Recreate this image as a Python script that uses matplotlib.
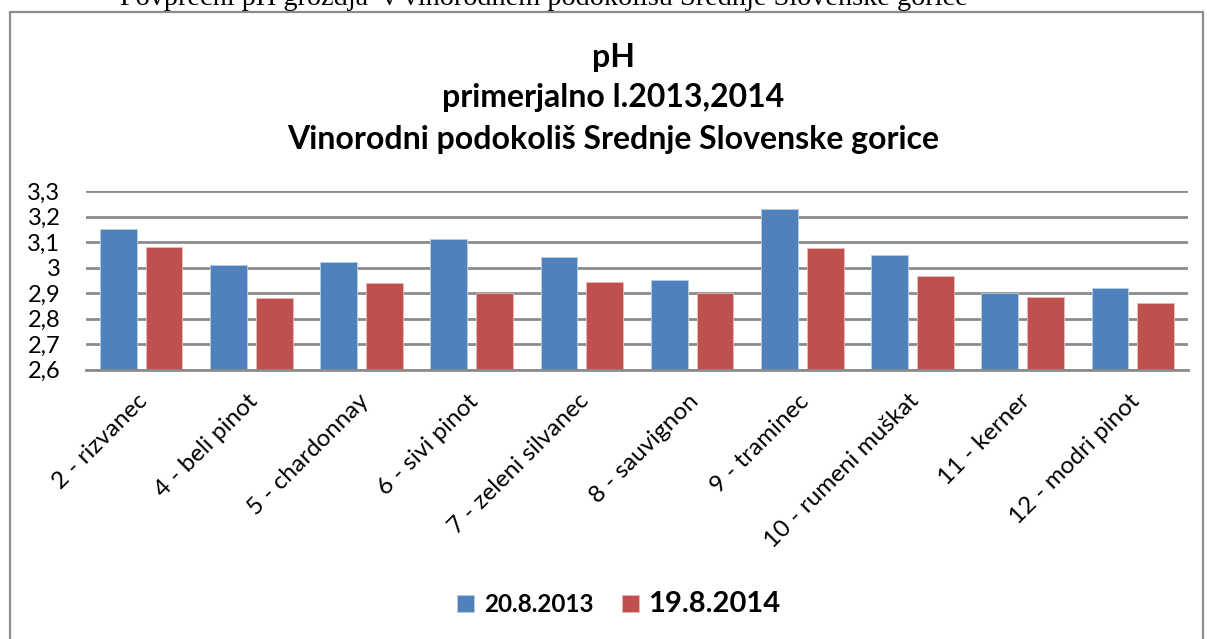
import matplotlib
matplotlib.use('Agg')
import matplotlib.pyplot as plt
import matplotlib.transforms as mtransforms
from matplotlib.patches import Rectangle
import numpy as np

plt.rcParams['font.family'] = ['Lato', 'DejaVu Sans']

# data
varieties = ['2 - rizvanec', '4 - beli pinot', '5 - chardonnay', '6 - sivi pinot',
             '7 - zeleni silvanec', '8 - sauvignon', '9 - traminec',
             '10 - rumeni muškat', '11 - kerner', '12 - modri pinot']
ph_2013 = [3.15, 3.01, 3.02, 3.11, 3.04, 2.95, 3.23, 3.05, 2.90, 2.92]
ph_2014 = [3.08, 2.88, 2.94, 2.90, 2.945, 2.90, 3.075, 2.965, 2.885, 2.86]
series_labels = ['20.8.2013', '19.8.2014']
yticks = [2.6, 2.7, 2.8, 2.9, 3.0, 3.1, 3.2, 3.3]
ytick_labels = ['2,6', '2,7', '2,8', '2,9', '3', '3,1', '3,2', '3,3']

W, H = 1207, 639
fig = plt.figure(figsize=(W / 100, H / 100), dpi=100)

# chart frame (cut by the page at the right/bottom)
fig.patches.append(Rectangle((10 / W, -0.05), (1203 - 10) / W, 1.05 - 12 / H,
                             transform=fig.transFigure, fill=False,
                             edgecolor='#8c8c8c', lw=1.6))

# document caption sliced off at the top
fig.text(120 / W, 1 - 5 / H, 'Povprečni pH grozdja  v vinorodnem podokolišu Srednje Slovenske gorice',
         family='Liberation Serif', fontsize=20.3, ha='left', va='baseline')

ax = fig.add_axes([86 / W, 1 - 369.5 / H, (1188 - 86) / W, (369.5 - 191) / H])

x = np.arange(len(varieties))
w = 0.335
off = 0.208
ax.bar(x - off, np.array(ph_2013) - 2.6, w, bottom=2.6, color='#4F81BD',
       edgecolor='#b9cde5', lw=0.6, label=series_labels[0], zorder=3)
ax.bar(x + off, np.array(ph_2014) - 2.6, w, bottom=2.6, color='#C0504D',
       edgecolor='#e6b9b8', lw=0.6, label=series_labels[1], zorder=3)

ax.set_xlim(-0.5, len(varieties) - 0.5)
ax.set_ylim(2.6, 3.3)
ax.set_yticks(yticks)
ax.set_yticklabels(ytick_labels, fontsize=17)
ax.yaxis.grid(True, color='#8c8c8c', lw=2, zorder=0)
ax.tick_params(axis='y', length=0, pad=18.5)

ax.set_xticks(x)
ax.set_xticklabels(varieties, rotation=45, fontsize=17.5, ha='right', va='top',
                   rotation_mode='anchor')
ax.tick_params(axis='x', length=0, pad=15)
shift = mtransforms.ScaledTranslation(-4 / 100, 0, fig.dpi_scale_trans)
for lab in ax.get_xticklabels():
    lab.set_transform(lab.get_transform() + shift)

for s in ['left', 'right', 'top']:
    ax.spines[s].set_visible(False)
ax.spines['bottom'].set_color('#8c8c8c')
ax.spines['bottom'].set_linewidth(2)
ax.spines['bottom'].set_zorder(4)

# title
tx = 613 / W
fig.text(tx, 1 - 57 / H, 'pH', fontsize=23, fontweight='bold', ha='center', va='center')
fig.text(tx, 1 - 98 / H, 'primerjalno l.2013,2014', fontsize=23, fontweight='bold',
         ha='center', va='center')
fig.text(tx, 1 - 139 / H, 'Vinorodni podokoliš Srednje Slovenske gorice', fontsize=23,
         fontweight='bold', ha='center', va='center')

leg = fig.legend(loc='center', bbox_to_anchor=(619 / W, 1 - 604 / H), ncol=2,
                 frameon=False, handlelength=0.7, handleheight=0.7,
                 handletextpad=0.4, columnspacing=1.15, prop={'weight': 'bold', 'size': 17.5})
texts = leg.get_texts()
texts[1].set_fontsize(21)

fig.savefig('out.png', dpi=100)
